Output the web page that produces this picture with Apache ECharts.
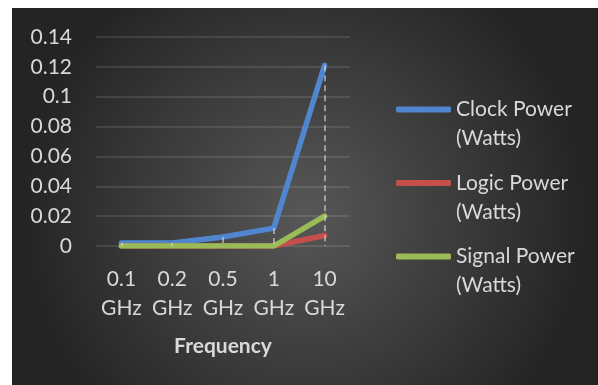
<!DOCTYPE html>
<html>
<head>
<meta charset="utf-8">
<script src="https://cdn.jsdelivr.net/npm/echarts@6/dist/echarts.min.js"></script>
<style>
  html, body { margin: 0; padding: 0; background: #fff; }
  #chart { position: absolute; left: 12px; top: 8px; width: 586px; height: 377px; }
</style>
</head>
<body>
<div id="chart"></div>
<script>
// 频率 / 功耗数据
var categories = ['0.1\nGHz', '0.2\nGHz', '0.5\nGHz', '1\nGHz', '10\nGHz'];
var clockPower = [0.002, 0.002, 0.006, 0.012, 0.121];
var logicPower = [0, 0, 0, 0, 0.007];
var signalPower = [0, 0, 0, 0, 0.020];
var seriesNames = ['Clock Power\n(Watts)', 'Logic Power\n(Watts)', 'Signal Power\n(Watts)'];

var textColor = '#d9d9d9';
var fontFamily = 'Lato, "Liberation Sans", sans-serif';

var myChart = echarts.init(document.getElementById('chart'));

// drop lines from the top series down to the axis
var dropLines = categories.map(function (c, i) {
    return [{ coord: [c, clockPower[i]] }, { coord: [c, 0] }];
});

function lineSeries(name, data, color, extra) {
    var s = {
        name: name,
        type: 'line',
        data: data,
        showSymbol: false,
        symbol: 'none',
        lineStyle: { width: 5.5, color: color, cap: 'round', join: 'round' },
        itemStyle: { color: color },
        silent: true
    };
    return Object.assign(s, extra || {});
}

myChart.setOption({
    animation: false,
    backgroundColor: {
        type: 'radial',
        x: 0.5,
        y: 0.55,
        r: 0.75,
        colorStops: [
            { offset: 0, color: '#575757' },
            { offset: 1, color: '#242424' }
        ]
    },
    textStyle: { fontFamily: fontFamily },
    grid: {
        left: 84,
        right: 248,
        top: 29,
        bottom: 139,
        containLabel: false
    },
    legend: {
        orient: 'vertical',
        left: 379,
        top: 53,
        itemWidth: 55,
        itemHeight: 6,
        itemGap: -13.5,
        icon: 'roundRect',
        data: seriesNames,
        selectedMode: false,
        // leading blank line keeps the icon level with the first text line
        formatter: function (name) { return '\n' + name; },
        textStyle: {
            color: textColor,
            fontSize: 21,
            fontFamily: fontFamily,
            lineHeight: 29
        }
    },
    xAxis: {
        type: 'category',
        data: categories,
        name: 'Frequency',
        nameLocation: 'middle',
        nameGap: 90,
        nameTextStyle: {
            color: textColor,
            fontSize: 21,
            fontWeight: 'bold',
            fontFamily: fontFamily
        },
        axisLine: { show: false },
        axisTick: { show: false },
        axisLabel: {
            interval: 0,
            color: textColor,
            fontSize: 21,
            lineHeight: 29,
            margin: 19,
            fontFamily: fontFamily
        }
    },
    yAxis: {
        type: 'value',
        min: 0,
        max: 0.14,
        interval: 0.02,
        axisLine: { show: false },
        axisTick: { show: false },
        axisLabel: {
            color: textColor,
            fontSize: 21,
            margin: 24,
            fontFamily: fontFamily
        },
        splitLine: {
            lineStyle: { color: 'rgba(255,255,255,0.14)', width: 1.5 }
        }
    },
    series: [
        lineSeries(seriesNames[0], clockPower, '#4f86cf'),
        lineSeries(seriesNames[1], logicPower, '#c44f4b'),
        lineSeries(seriesNames[2], signalPower, '#9bbb59', {
            markLine: {
                silent: true,
                symbol: 'none',
                label: { show: false },
                lineStyle: {
                    color: 'rgba(220,220,220,0.75)',
                    width: 1.5,
                    type: [6, 4]
                },
                data: dropLines
            }
        })
    ]
});
</script>
</body>
</html>
